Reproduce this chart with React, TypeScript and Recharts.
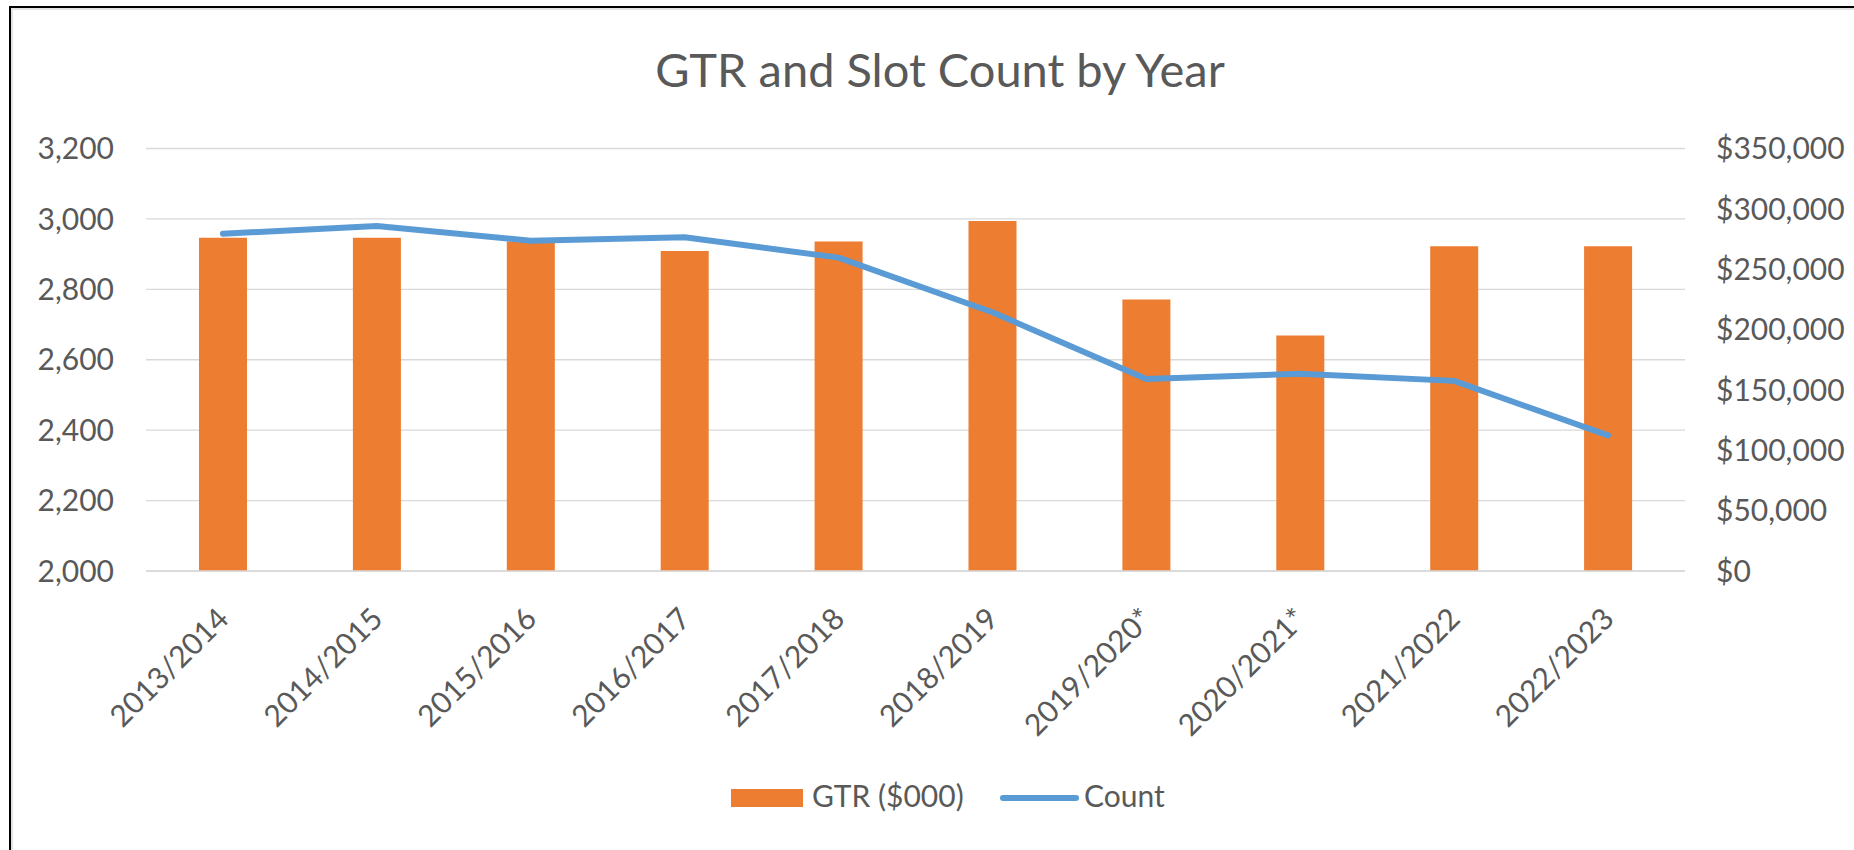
import { Bar, CartesianGrid, ComposedChart, Line, XAxis, YAxis } from 'recharts'

const categories = [
  '2013/2014',
  '2014/2015',
  '2015/2016',
  '2016/2017',
  '2017/2018',
  '2018/2019',
  '2019/2020*',
  '2020/2021*',
  '2021/2022',
  '2022/2023',
]
const gtrValues = [276000, 276000, 273000, 265000, 273000, 290000, 225000, 195000, 269000, 269000]
const countValues = [2958, 2980, 2938, 2948, 2890, 2735, 2545, 2560, 2540, 2385]
const countTicks = [2000, 2200, 2400, 2600, 2800, 3000, 3200]
const gtrTicks = [0, 50000, 100000, 150000, 200000, 250000, 300000, 350000]

const TITLE = 'GTR and Slot Count by Year'
const GTR_NAME = 'GTR ($000)'
const COUNT_NAME = 'Count'

const ORANGE = '#ED7D31'
const BLUE = '#5B9BD5'
const TEXT = '#595959'
const GRID = '#D9D9D9'
const FONT = 'Lato, "Open Sans", sans-serif'

const data = categories.map((year, i) => ({ year, gtr: gtrValues[i], count: countValues[i] }))

const XTick = (props: { x?: number; y?: number; payload?: { value: string } }) => {
  const x = Number(props.x)
  const y = Number(props.y) + 42
  return (
    <text
      x={x}
      y={y}
      dy="0.36em"
      textAnchor="end"
      transform={`rotate(-45 ${x} ${y})`}
      fill={TEXT}
      fontSize={30}
      fontFamily={FONT}
    >
      {props.payload?.value}
    </text>
  )
}

export default function App() {
  return (
    <div
      style={{
        position: 'absolute',
        left: 0,
        top: 0,
        width: 1854,
        height: 850,
        background: '#fff',
        overflow: 'hidden',
        fontFamily: FONT,
      }}
    >
      <div
        style={{
          position: 'absolute',
          left: 9,
          top: 6,
          width: 1900,
          height: 900,
          border: '2px solid #000',
          boxShadow: 'inset 2px 2px 0 #e3e3e3',
        }}
      />
      <div
        style={{
          position: 'absolute',
          left: 440,
          top: 46,
          width: 1000,
          textAlign: 'center',
          fontSize: 47,
          lineHeight: '47px',
          color: TEXT,
        }}
      >
        {TITLE}
      </div>
      <div style={{ position: 'absolute', left: 0, top: 0 }}>
        <ComposedChart
          width={1854}
          height={850}
          data={data}
          margin={{ top: 148.5, right: 69, left: 46, bottom: 129 }}
        >
          <CartesianGrid yAxisId="left" vertical={false} stroke={GRID} strokeWidth={1.3} />
          <XAxis
            dataKey="year"
            interval={0}
            height={150}
            tickLine={false}
            axisLine={{ stroke: GRID, strokeWidth: 1.3 }}
            tickSize={0}
            tickMargin={0}
            tick={<XTick />}
          />
          <YAxis
            yAxisId="left"
            orientation="left"
            width={100}
            domain={[2000, 3200]}
            ticks={countTicks}
            tickFormatter={(v) => Number(v).toLocaleString('en-US')}
            tickLine={false}
            axisLine={false}
            tickSize={0}
            tickMargin={32}
            tick={{ fill: TEXT, fontSize: 30, fontFamily: FONT }}
          />
          <YAxis
            yAxisId="right"
            orientation="right"
            width={100}
            domain={[0, 350000]}
            ticks={gtrTicks}
            tickFormatter={(v) => `$${Number(v).toLocaleString('en-US')}`}
            tickLine={false}
            axisLine={false}
            tickSize={0}
            tickMargin={31}
            tick={{ fill: TEXT, fontSize: 30, fontFamily: FONT, textAnchor: 'start' }}
          />
          <Bar yAxisId="right" dataKey="gtr" name={GTR_NAME} fill={ORANGE} barSize={48} isAnimationActive={false} />
          <Line
            yAxisId="left"
            type="linear"
            dataKey="count"
            name={COUNT_NAME}
            stroke={BLUE}
            strokeWidth={6}
            strokeLinecap="round"
            strokeLinejoin="round"
            dot={false}
            activeDot={false}
            isAnimationActive={false}
          />
        </ComposedChart>
      </div>
      {/* legend */}
      <div style={{ position: 'absolute', left: 731, top: 789, width: 72, height: 18, background: ORANGE }} />
      <div style={{ position: 'absolute', left: 812, top: 780, fontSize: 30, lineHeight: '30px', color: TEXT, whiteSpace: 'nowrap' }}>
        {GTR_NAME}
      </div>
      <div
        style={{ position: 'absolute', left: 1000, top: 795, width: 79, height: 6, borderRadius: 3, background: BLUE }}
      />
      <div style={{ position: 'absolute', left: 1084, top: 780, fontSize: 30, lineHeight: '30px', color: TEXT, whiteSpace: 'nowrap' }}>
        {COUNT_NAME}
      </div>
    </div>
  )
}
